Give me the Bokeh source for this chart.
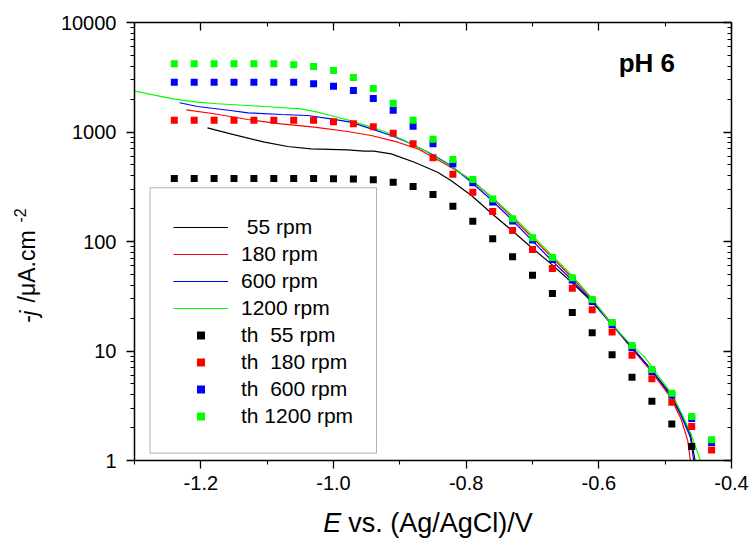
import math
from bokeh.plotting import figure
from bokeh.models import (Range1d, LinearAxis, LogAxis, FixedTicker, PrintfTickFormatter,
                          Label, Legend, LegendItem, BoxAnnotation)
from bokeh.embed import file_html
from bokeh.resources import INLINE

# ---------------- data ----------------
# theoretical points (same potentials for all rotation rates)
E_th = [-1.24, -1.21, -1.18, -1.15, -1.12, -1.09, -1.06, -1.03, -1.00, -0.97,
        -0.94, -0.91, -0.88, -0.85, -0.82, -0.79, -0.76, -0.73, -0.70, -0.67,
        -0.64, -0.61, -0.58, -0.55, -0.52, -0.49, -0.46, -0.43]
th_55 = [377, 377, 377, 377, 377, 377, 377, 376, 375, 372,
         366, 348, 318, 269, 210, 153, 106, 72.5, 49.2, 33.5,
         22.5, 14.7, 9.23, 5.77, 3.48, 2.15, 1.34, 0.82]
th_180 = [1282, 1282, 1282, 1282, 1282, 1282, 1282, 1282, 1239, 1188,
          1115, 975, 780, 581, 412, 282, 188, 126, 84.5, 56.6,
          37.5, 23.8, 14.9, 9.16, 5.57, 3.41, 2.04, 1.25]
th_600 = [2851, 2851, 2851, 2851, 2851, 2851, 2851, 2754, 2620, 2393,
          2023, 1582, 1130, 780, 512, 344, 230, 154, 103, 68.5,
          44.5, 28.3, 17.5, 10.7, 6.5, 3.96, 2.42, 1.46]
th_1200 = [4197, 4197, 4197, 4197, 4197, 4197, 4110, 3965, 3645, 3146,
           2496, 1832, 1282, 859, 561, 368, 244, 161, 108, 71.4,
           46.6, 29.5, 18.2, 11.2, 6.78, 4.12, 2.52, 1.55]

# measured curves
E_55 = [-1.190, -1.155, -1.104, -1.069, -1.034, -0.979, -0.954, -0.939, -0.913, -0.878,
        -0.843, -0.823, -0.792, -0.761, -0.731, -0.702, -0.672, -0.641, -0.611, -0.582,
        -0.552, -0.522, -0.492, -0.476, -0.462, -0.455]
j_55 = [1092, 962, 807, 737, 702, 688, 668, 668, 632, 530,
        429, 360, 263, 179, 126, 88.7, 62.5, 42.5, 28.5, 17.9,
        11.2, 6.87, 4.06, 2.67, 1.75, 1.0]

E_180 = [-1.222, -1.180, -1.129, -1.079, -1.029, -0.979, -0.943, -0.903, -0.873, -0.823,
         -0.792, -0.761, -0.731, -0.702, -0.672, -0.641, -0.611, -0.582, -0.552, -0.522,
         -0.492, -0.476, -0.466, -0.462]
j_180 = [1595, 1467, 1301, 1188, 1107, 1011, 929, 807, 702, 477,
         365, 251, 167, 111, 72.9, 47.2, 30.0, 18.3, 10.8, 6.64,
         3.79, 2.40, 1.52, 1.0]

E_600 = [-1.232, -1.205, -1.155, -1.129, -1.079, -1.039, -1.004, -0.974, -0.943, -0.913,
         -0.883, -0.853, -0.823, -0.792, -0.761, -0.731, -0.702, -0.672, -0.641, -0.611,
         -0.582, -0.552, -0.522, -0.492, -0.476, -0.462, -0.457]
j_600 = [1849, 1709, 1572, 1497, 1445, 1415, 1320, 1229, 1069, 929,
         780, 632, 494, 348, 237, 158, 104, 68, 44.7, 28.9,
         17.9, 11.0, 6.87, 3.95, 2.58, 1.63, 1.0]

E_1200 = [-1.300, -1.240, -1.205, -1.175, -1.104, -1.049, -1.024, -1.004, -0.979, -0.954,
          -0.923, -0.893, -0.863, -0.823, -0.792, -0.761, -0.731, -0.702, -0.672, -0.641,
          -0.611, -0.587, -0.559, -0.531, -0.509, -0.490, -0.475, -0.461, -0.447]
j_1200 = [2359, 1994, 1872, 1811, 1709, 1629, 1517, 1415, 1292, 1163,
          1011, 836, 678, 487, 361, 254, 173, 116, 76.1, 49.3,
          30.5, 19.6, 12.7, 8.78, 5.77, 4.06, 2.67, 1.75, 1.0]

x_major = [-1.2, -1.0, -0.8, -0.6, -0.4]
x_minor = [-1.3, -1.1, -0.9, -0.7, -0.5]
y_major = [1, 10, 100, 1000, 10000]
y_minor = [m * d for d in (1, 10, 100, 1000) for m in range(2, 10)]

FONT = "Liberation Sans"
NB = "\u00a0"

p = figure(frame_width=597, frame_height=438,
           x_range=Range1d(-1.3, -0.4), y_range=Range1d(1, 10000),
           y_axis_type="log", output_backend="svg", toolbar_location=None,
           min_border_left=134, min_border_right=24, min_border_top=22, min_border_bottom=92)
p.xgrid.visible = False
p.ygrid.visible = False
p.outline_line_color = None
p.background_fill_color = "white"
p.border_fill_color = "white"

def style_axis(ax, ticks, minor, fmt, outside, labels=True, standoff=7):
    ax.ticker = FixedTicker(ticks=ticks, minor_ticks=minor)
    ax.formatter = PrintfTickFormatter(format=fmt)
    ax.axis_line_color = "black"
    ax.axis_line_width = 1.5
    ax.major_tick_line_color = "black"
    ax.minor_tick_line_color = "black"
    ax.major_tick_line_width = 1.3
    ax.minor_tick_line_width = 1.1
    if outside:
        ax.major_tick_out, ax.major_tick_in = 8, 0
        ax.minor_tick_out, ax.minor_tick_in = 4, 0
    else:
        ax.major_tick_out, ax.major_tick_in = 0, 8
        ax.minor_tick_out, ax.minor_tick_in = 0, 4
    ax.major_label_text_font = FONT
    ax.major_label_text_color = "black"
    ax.axis_label_text_font = FONT
    ax.axis_label_text_font_style = "normal"
    ax.axis_label_text_color = "black"
    if labels:
        ax.major_label_text_font_size = "20px"
        ax.major_label_standoff = standoff
    else:
        ax.major_label_text_font_size = "0px"
        ax.major_label_standoff = 0

style_axis(p.xaxis[0], x_major, x_minor, "%.1f", True, standoff=7)
style_axis(p.yaxis[0], y_major, y_minor, "%d", True, standoff=10)

p.xaxis[0].axis_label = NB * 2 + "vs. (Ag/AgCl)/V"
p.xaxis[0].axis_label_text_font_size = "27px"
p.xaxis[0].axis_label_standoff = 15

p.yaxis[0].axis_label = "-" + NB * 2 + "/\u03bcA.cm" + NB * 11
p.yaxis[0].axis_label_text_font_size = "23px"
p.yaxis[0].axis_label_standoff = 18

top_ax = LinearAxis()
style_axis(top_ax, x_major, x_minor, "%.1f", False, labels=False)
p.add_layout(top_ax, "above")
right_ax = LogAxis()
style_axis(right_ax, y_major, y_minor, "%d", False, labels=False)
p.add_layout(right_ax, "right")

# curves
r1 = p.line(E_55, j_55, line_color="black", line_width=1.2)
r2 = p.line(E_180, j_180, line_color="#ff0000", line_width=1.2)
r3 = p.line(E_600, j_600, line_color="#0000ff", line_width=1.2)
r4 = p.line(E_1200, j_1200, line_color="#00ff00", line_width=1.2)

# theoretical squares
s1 = p.scatter(E_th, th_55, marker="square", size=7, fill_color="black", line_color=None)
s2 = p.scatter(E_th, th_180, marker="square", size=7, fill_color="#ff0000", line_color=None)
s3 = p.scatter(E_th, th_600, marker="square", size=7, fill_color="#0000ff", line_color=None)
s4 = p.scatter(E_th, th_1200, marker="square", size=7, fill_color="#00ff00", line_color=None)

legend = Legend(items=[
    LegendItem(label=NB + "55 rpm", renderers=[r1]),
    LegendItem(label="180 rpm", renderers=[r2]),
    LegendItem(label="600 rpm", renderers=[r3]),
    LegendItem(label="1200 rpm", renderers=[r4]),
    LegendItem(label="th" + NB + " 55 rpm", renderers=[s1]),
    LegendItem(label="th" + NB + " 180 rpm", renderers=[s2]),
    LegendItem(label="th" + NB + " 600 rpm", renderers=[s3]),
    LegendItem(label="th 1200 rpm", renderers=[s4]),
], location=(39, 32), padding=0, margin=0, spacing=3,
    glyph_width=55, glyph_height=20, label_height=20, label_standoff=13,
    label_text_font=FONT, label_text_font_size="21px", label_text_color="black",
    border_line_color=None, background_fill_alpha=0)
p.add_layout(legend)

box = BoxAnnotation(left=15.5, right=242, top=272.7, bottom=7.3,
                    left_units="screen", right_units="screen",
                    top_units="screen", bottom_units="screen",
                    fill_alpha=0, line_color="black", line_width=1, level="overlay")
p.add_layout(box)

def lab(x, y, text, size, style="normal", angle=0.0, units="screen"):
    return Label(x=x, y=y, x_units=units, y_units=units, text=text,
                 text_font=FONT, text_font_size=size, text_font_style=style,
                 text_color="black", angle=angle, text_align="left",
                 text_baseline="alphabetic")

A = math.pi / 2
# italic parts and superscript of the axis titles (canvas coordinates, side panels -> not clipped)
p.add_layout(lab(322.7, 522, "E", "27px", "italic", units="canvas"), "right")
p.add_layout(lab(28, 315.3, "j", "23px", "italic", angle=A, units="canvas"), "below")
p.add_layout(lab(19, 222, "-2", "16px", angle=A, units="canvas"), "above")

p.add_layout(lab(484.2, 398, "pH 6", "26px", "bold"))

open("out.html", "w").write(file_html(p, INLINE))
